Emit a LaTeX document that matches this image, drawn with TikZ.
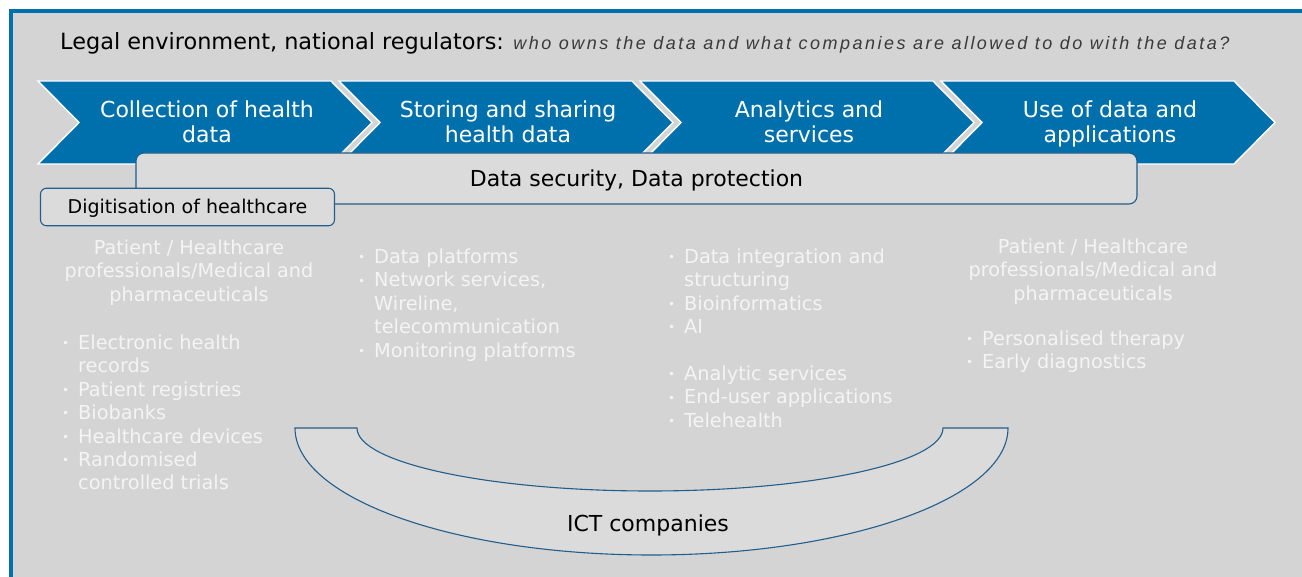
\documentclass[tikz,border=0pt]{standalone}
\usepackage{fontspec}
\setmainfont{DejaVu Sans}
\newfontfamily\questionfont[LetterSpace=13.8]{Liberation Sans}

\definecolor{chevblue}{HTML}{0070AC}
\definecolor{framegrey}{HTML}{D4D4D4}
\definecolor{boxgrey}{HTML}{DBDBDB}
\definecolor{edgeblue}{HTML}{215E8C}
\definecolor{questiongrey}{HTML}{3A3A3A}
\definecolor{lighttext}{HTML}{F4F4F4}

% bullet marker and the indent of continuation lines
\newcommand{\bul}{\makebox[16pt][l]{\fontsize{12}{12}\selectfont\raisebox{1.8pt}{•}}}
\newcommand{\cont}{\hspace*{16pt}}
\newcommand{\firstline}[1]{\rule{0pt}{#1}}

\tikzset{
  chevshape/.style={fill=chevblue, draw=white, line width=1.4pt, line join=miter},
  chevtext/.style={text=white, font=\fontsize{22}{25}\selectfont, align=center,
    inner sep=0pt, anchor=north},
  panelbox/.style={draw=edgeblue, fill=boxgrey, line width=1.1pt, inner sep=0pt},
  headtext/.style={text=lighttext, font=\fontsize{19.2}{23.5}\selectfont, align=center,
    inner sep=0pt, anchor=north},
  listtext/.style={text=lighttext, font=\fontsize{19.3}{23.4}\selectfont, align=left,
    inner sep=0pt, anchor=north west},
}

\begin{document}
\begin{tikzpicture}[x=1pt,y=-1pt]
\useasboundingbox (0,0) rectangle (1302,577);

% frame: grey field with a blue rule on the top and left edges
\fill[framegrey] (10,10) rectangle (1302,577);
\draw[chevblue, line width=4pt] (10.5,577) -- (10.5,11.3) -- (1302,11.3);

% heading line
\node[anchor=base west, inner sep=0pt, font=\fontsize{22.4}{26}\selectfont] (legal) at (60,50)
  {Legal environment, national regulators: {\questionfont\itshape\fontsize{18}{20}\selectfont\color{questiongrey}who owns the data and what companies are allowed to do with the data?}};

% value-chain chevrons
\foreach \i/\lbl in {0/{Collection of health\\data},
                     1/{Storing and sharing\\health data},
                     2/{Analytics and\\services},
                     3/{Use of data and\\applications}}{
  \pgfmathsetmacro{\xo}{38+301*\i}
  \path[chevshape] (\xo,81) -- (\xo+293,81) -- (\xo+334,122.5) -- (\xo+293,164)
    -- (\xo,164) -- (\xo+41,122.5) -- cycle;
  \node[chevtext] (stage\i) at (\xo+169,100) {\firstline{17pt}\lbl};
}

% cross-cutting bars
\node[panelbox, rounded corners=8pt, minimum width=1001pt, minimum height=51pt,
  text height=18pt, text depth=1pt, font=\fontsize{22}{26}\selectfont]
  (security) at (636.5,178.5) {Data security, Data protection};
\node[panelbox, rounded corners=6pt, minimum width=294pt, minimum height=37.5pt,
  text height=16pt, text depth=2pt, font=\fontsize{19}{22}\selectfont]
  (digitisation) at (187.5,207) {Digitisation of healthcare};

% actors and activities per stage
\node[headtext] (users1) at (189,239.3)
  {\firstline{15pt}Patient / Healthcare\\professionals/Medical and\\pharmaceuticals};
\node[listtext] (collect) at (62,334.3)
  {\firstline{15pt}\bul Electronic health\\\cont records\\\bul Patient registries\\\bul Biobanks\\\bul Healthcare devices\\\bul Randomised\\\cont controlled trials};

\node[listtext] (store) at (358,248.3)
  {\firstline{15pt}\bul Data platforms\\\bul Network services,\\\cont Wireline,\\\cont telecommunication\\\bul Monitoring platforms};

\node[listtext] (analyse) at (668,248.3)
  {\firstline{15pt}\bul Data integration and\\\cont structuring\\\bul Bioinformatics\\\bul AI\\[23.4pt]\bul Analytic services\\\bul End-user applications\\\bul Telehealth};

\node[headtext] (users4) at (1093,238.3)
  {\firstline{15pt}Patient / Healthcare\\professionals/Medical and\\pharmaceuticals};
\node[listtext] (use) at (966,330)
  {\firstline{15pt}\bul Personalised therapy\\\bul Early diagnostics};

% ICT companies band beneath the middle stages
\path[panelbox]
  (295,428) -- (357,428)
  .. controls (357,462.8) and (488.2,491) .. (650,491)
  .. controls (811.8,491) and (943,462.8) .. (943,428)
  -- (1008,428)
  .. controls (1008,498.1) and (848.4,555) .. (651.5,555)
  .. controls (454.6,555) and (295,498.1) .. (295,428) -- cycle;
\node[anchor=base, inner sep=0pt, font=\fontsize{22}{26}\selectfont] (ict) at (648,531) {ICT companies};
\end{tikzpicture}
\end{document}
